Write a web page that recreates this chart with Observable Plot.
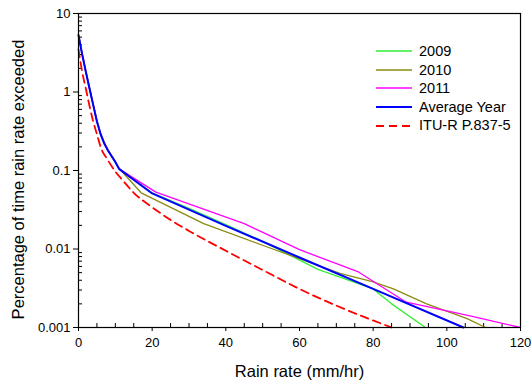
<!DOCTYPE html>
<html><head><meta charset="utf-8">
<script src="https://cdn.jsdelivr.net/npm/d3@7"></script>
<script src="https://cdn.jsdelivr.net/npm/@observablehq/plot@0.6"></script>
<style>
body{margin:0;background:#fff;font-family:"Liberation Sans",Arial,sans-serif;}
#wrap{position:relative;width:532px;height:384px;}
#legend{position:absolute;left:376px;top:42px;font-size:14.5px;line-height:18.6px;color:#000;}
#legend .row{display:flex;align-items:center;height:18.6px;}
#legend svg{margin-right:7px;}
</style></head><body><div id="wrap"><div id="legend"></div></div>
<script>
// Series data (rain rate mm/hr, percentage of time exceeded)
const rate2009 = [0,1,2,3,4,5,6,7,8,10,11,20,30,40,50,65,80,85,94.2];
const pct2009  = [5.3,3.0,1.8,1.1,0.68,0.42,0.29,0.22,0.18,0.128,0.105,0.052,0.033,0.0205,0.0125,0.0055,0.0031,0.002,0.001];
const rate2010 = [0,1,2,3,4,5,6,7,8,10,11,17,34,52,71,80,85.5,94.5,105.5,110.5];
const pct2010  = [5.4,3.1,1.85,1.15,0.7,0.44,0.3,0.23,0.185,0.13,0.107,0.052,0.021,0.0103,0.0049,0.0038,0.0031,0.002,0.0013,0.001];
const rate2011 = [0,1,2,3,4,5,6,7,8,10,11,21,45,60,76,89,106,120];
const pct2011  = [5.3,3.0,1.8,1.1,0.68,0.42,0.29,0.22,0.18,0.128,0.105,0.053,0.021,0.0098,0.0051,0.0021,0.00142,0.001];
const rateAvg  = [0,1,2,3,4,5,6,7,8,10,11,20,40,60,80,104.5];
const pctAvg   = [5.3,3.0,1.8,1.1,0.68,0.42,0.29,0.22,0.18,0.128,0.105,0.051,0.0197,0.0078,0.0031,0.001];
const rateITU  = [0,1,2,3,4,5,6,8,10,12,15,20,25,30,40,50,60,70,80,85];
const pctITU   = [3.5,1.8,1.1,0.66,0.42,0.29,0.2,0.135,0.097,0.075,0.052,0.034,0.0235,0.017,0.0095,0.0054,0.0031,0.0019,0.00123,0.001];

const seriesNames  = ["2009","2010","2011","Average Year","ITU-R P.837-5"];
const seriesColors = ["#33ee33","#8b8b10","#ff00ff","#0000ff","#ff0000"];

const xMajor = [0,20,40,60,80,100,120];
const xMinor = [5,10,15,25,30,35,45,50,55,65,70,75,85,90,95,105,110,115];
const yMajor = [0.001,0.01,0.1,1,10];
const yMinor = [];
for (const d of [0.001,0.01,0.1,1]) for (let k=2;k<=9;k++) yMinor.push(+(d*k).toPrecision(3));

const toRows = (r,p) => r.map((x,i)=>({x, y:p[i]}));
const s2009 = toRows(rate2009,pct2009), s2010 = toRows(rate2010,pct2010),
      s2011 = toRows(rate2011,pct2011), sAvg = toRows(rateAvg,pctAvg), sITU = toRows(rateITU,pctITU);

const chart = Plot.plot({
  width: 532, height: 384,
  marginLeft: 78, marginRight: 12, marginTop: 13, marginBottom: 57,
  style: {fontFamily: "'Liberation Sans', Arial, sans-serif", fontSize: "13px", color: "#000", background: "#fff", overflow: "visible"},
  x: {domain: [0,120]},
  y: {type: "log", domain: [0.001,10]},
  marks: [
    Plot.axisX({ticks: xMajor, tickSize: 4, tickPadding: 6, tickFormat: d => String(d), label: null, fontSize: 13}),
    Plot.axisX({ticks: xMinor, tickSize: -4, tickFormat: () => "", label: null}),
    Plot.axisY({ticks: yMajor, tickSize: 5, tickPadding: 3, tickFormat: d => String(d), label: null, fontSize: 13}),
    Plot.axisY({ticks: yMinor, tickSize: -4, tickFormat: () => "", label: null}),
    Plot.text(["Rain rate (mm/hr)"], {frameAnchor: "bottom", dy: 49, fontSize: 16.5, textAnchor: "middle"}),
    Plot.text(["Percentage of time rain rate exceeded"], {frameAnchor: "left", dx: -60, dy: 9, rotate: -90, fontSize: 16.5, textAnchor: "middle"}),
    Plot.line(sITU, {x: "x", y: "y", stroke: seriesColors[4], strokeWidth: 1.8, strokeDasharray: "8,5", curve: "monotone-x"}),
    Plot.line(s2009, {x: "x", y: "y", stroke: seriesColors[0], strokeWidth: 1.3}),
    Plot.line(s2010, {x: "x", y: "y", stroke: seriesColors[1], strokeWidth: 1.3}),
    Plot.line(s2011, {x: "x", y: "y", stroke: seriesColors[2], strokeWidth: 1.3}),
    Plot.line(sAvg, {x: "x", y: "y", stroke: seriesColors[3], strokeWidth: 2}),
    Plot.frame({stroke: "#000", strokeWidth: 1.2})
  ]
});
document.getElementById("wrap").prepend(chart);

const leg = document.getElementById("legend");
seriesNames.forEach((n,i) => {
  const dash = i === 4 ? 'stroke-dasharray="8,5"' : '';
  const w = i === 3 ? 2 : (i === 4 ? 1.8 : 1.3);
  leg.insertAdjacentHTML("beforeend",
    `<div class="row"><svg width="36" height="6"><line x1="0" y1="3" x2="36" y2="3" stroke="${seriesColors[i]}" stroke-width="${w}" ${dash}/></svg><span>${n}</span></div>`);
});
</script>
</body></html>
